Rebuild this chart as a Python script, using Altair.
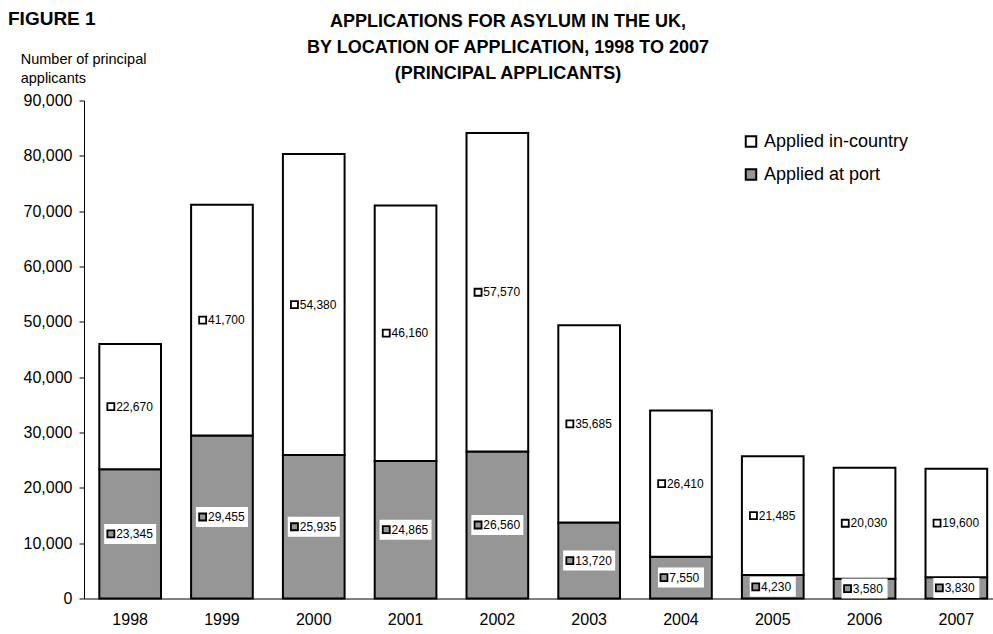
import altair as alt
import pandas as pd

years = ["1998", "1999", "2000", "2001", "2002", "2003", "2004", "2005", "2006", "2007"]
applied_at_port = [23345, 29455, 25935, 24865, 26560, 13720, 7550, 4230, 3580, 3830]
applied_in_country = [22670, 41700, 54380, 46160, 57570, 35685, 26410, 21485, 20030, 19600]
series_names = ["Applied in-country", "Applied at port"]
series_colors = ["white", "#969696"]
y_ticks = [0, 10000, 20000, 30000, 40000, 50000, 60000, 70000, 80000, 90000]

rows = []
for yr, p, c in zip(years, applied_at_port, applied_in_country):
    rows.append({"year": yr, "series": "Applied at port", "value": p})
    rows.append({"year": yr, "series": "Applied in-country", "value": c})
df = pd.DataFrame(rows)

FONT = "Liberation Sans"

xscale = alt.Scale(paddingInner=0.328, paddingOuter=0.115, align=0.725)
yscale = alt.Scale(domain=[0, 90000], nice=False)

x_axis = alt.Axis(
    title=None, labelAngle=0, ticks=False, labelFontSize=16, labelPadding=13,
    domainColor="black", labelColor="black", labelFont=FONT)
y_axis = alt.Axis(
    title=None, values=y_ticks, format=",d", grid=False, tickSize=5,
    tickColor="black", domainColor="black", labelColor="black",
    labelFontSize=16, labelFont=FONT, labelPadding=7)

base = alt.Chart(df).transform_calculate(
    ord="datum.series == 'Applied at port' ? 0 : 1"
)

bars = base.mark_bar(stroke="black", strokeWidth=2).encode(
    x=alt.X("year:O", scale=xscale, axis=x_axis),
    y=alt.Y("value:Q", stack="zero", scale=yscale, axis=y_axis),
    color=alt.Color("series:N", scale=alt.Scale(domain=series_names, range=series_colors),
                    legend=alt.Legend(title=None, orient="none", legendX=658, legendY=32,
                                      symbolType="square", symbolSize=110,
                                      symbolStrokeColor="black", symbolStrokeWidth=2,
                                      labelFontSize=18, labelFont=FONT, labelColor="black",
                                      rowPadding=13, labelOffset=4, symbolOpacity=1)),
    order=alt.Order("ord:Q", sort="ascending"),
)

stacked = base.transform_stack(
    stack="value", groupby=["year"], as_=["y0", "y1"],
    sort=[alt.SortField("ord", order="ascending")]
).transform_calculate(mid="(datum.y0 + datum.y1) / 2")

label_layers = []
for cond, box_path, marker_path, text_dx in [
    ("datum.value >= 10000", "M-26,-10H26V10H-26Z", "M-22.8,-3.5H-15.8V3.5H-22.8Z", -14),
    ("datum.value < 10000", "M-23,-10H23V10H-23Z", "M-20.5,-3.5H-13.5V3.5H-20.5Z", -11.7),
]:
    sub = stacked.transform_filter(cond)
    enc = dict(x=alt.X("year:O", scale=xscale, axis=x_axis),
               y=alt.Y("mid:Q", scale=yscale, axis=y_axis))
    box = sub.mark_point(shape=box_path, size=4, filled=True, fill="white",
                         opacity=1, strokeWidth=0).encode(**enc)
    marker = sub.mark_point(shape=marker_path, size=4, filled=True, stroke="black",
                            strokeWidth=1.8, opacity=1).encode(
        fill=alt.condition("datum.series == 'Applied at port'",
                           alt.value("#969696"), alt.value("white")),
        **enc)
    txt = sub.mark_text(align="left", baseline="middle", dx=text_dx, fontSize=12,
                        font=FONT, color="black").encode(
        text=alt.Text("value:Q", format=",d"), **enc)
    label_layers += [box, marker, txt]

one = alt.Data(values=[{}])
fig_label = alt.Chart(one).mark_text(
    align="left", baseline="alphabetic", fontSize=19, fontWeight="bold", font=FONT, color="black"
).encode(x=alt.value(-76), y=alt.value(-75.5), text=alt.value("FIGURE 1"))

title_txt = alt.Chart(one).mark_text(
    align="center", baseline="alphabetic", fontSize=18, fontWeight="bold", font=FONT,
    color="black", lineHeight=26
).encode(x=alt.value(424), y=alt.value(-73.8), text=alt.value([
    "APPLICATIONS FOR ASYLUM IN THE UK,",
    "BY LOCATION OF APPLICATION, 1998 TO 2007",
    "(PRINCIPAL APPLICANTS)"]))

ytitle = alt.Chart(one).mark_text(
    align="left", baseline="alphabetic", fontSize=14.5, font=FONT, color="black", lineHeight=19
).encode(x=alt.value(-63.3), y=alt.value(-36.5),
         text=alt.value(["Number of principal", "applicants"]))

chart = alt.layer(bars, *label_layers, fig_label, title_txt, ytitle).properties(
    width=909, height=498,
    autosize=alt.AutoSizeParams(type="none"),
    padding={"left": 84, "top": 100.5, "right": 0, "bottom": 35.5},
    background="white",
).configure_view(stroke=None)

chart.save("out.html", embed_options={"renderer": "svg", "actions": False})
